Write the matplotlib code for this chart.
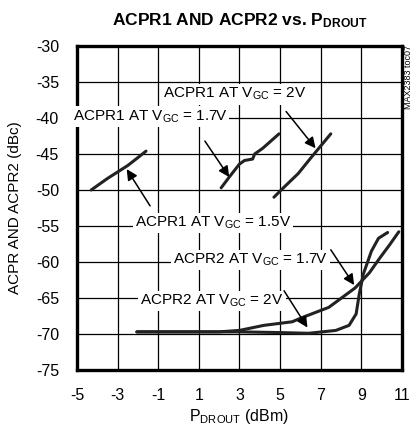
import matplotlib
matplotlib.use('Agg')
import matplotlib.pyplot as plt

# curve data (PDROUT in dBm, ACPR in dBc)
acpr1_15v_x = [-4.3, -3.5, -3.0, -2.5, -2.0, -1.6]
acpr1_15v_y = [-50.0, -48.4, -47.5, -46.6, -45.5, -44.6]

acpr1_17v_x = [2.1, 2.5, 3.0, 3.25, 3.65, 3.75, 4.15, 4.55, 4.95]
acpr1_17v_y = [-49.7, -48.2, -46.4, -45.9, -45.7, -45.0, -44.2, -43.2, -42.2]

acpr1_2v_x = [4.7, 5.2, 5.9, 6.5, 7.0, 7.5]
acpr1_2v_y = [-51.0, -49.6, -47.7, -45.6, -43.9, -42.2]

acpr2_17v_x = [-2.05, 0.0, 2.0, 3.0, 4.2, 5.6, 6.1, 7.4, 8.7, 9.4, 9.9, 10.4, 10.85]
acpr2_17v_y = [-69.7, -69.7, -69.7, -69.5, -68.8, -68.3, -67.7, -66.3, -63.6, -61.5, -59.5, -57.6, -55.8]

acpr2_2v_x = [-2.05, 0.0, 3.0, 5.0, 6.4, 7.75, 8.4, 8.75, 8.9, 9.1, 9.5, 9.85, 10.3]
acpr2_2v_y = [-69.7, -69.7, -69.7, -69.8, -69.9, -69.5, -68.8, -67.2, -64.5, -61.7, -58.5, -56.7, -55.9]

xticks = [-5, -3, -1, 1, 3, 5, 7, 9, 11]
yticks = [-75, -70, -65, -60, -55, -50, -45, -40, -35, -30]

plt.rcParams['font.family'] = ['Liberation Sans', 'DejaVu Sans']
plt.rcParams['mathtext.fontset'] = 'custom'
plt.rcParams['mathtext.rm'] = 'Liberation Sans'
plt.rcParams['mathtext.it'] = 'Liberation Sans'
plt.rcParams['mathtext.bf'] = 'Liberation Sans:bold'

fig = plt.figure(figsize=(4.16, 4.30), dpi=100)
ax = fig.add_axes([0.185, 0.1395, 0.781, 0.7535])

for xs, ys in [(acpr1_15v_x, acpr1_15v_y), (acpr1_17v_x, acpr1_17v_y),
               (acpr1_2v_x, acpr1_2v_y), (acpr2_17v_x, acpr2_17v_y),
               (acpr2_2v_x, acpr2_2v_y)]:
    ax.plot(xs, ys, color='#222222', lw=2.2, solid_capstyle='round', zorder=3)

ax.set_xlim(-5, 11)
ax.set_ylim(-75, -30)
ax.set_xticks(xticks)
ax.set_yticks(yticks)
ax.set_xticklabels([str(t) for t in xticks])
ax.set_yticklabels([str(t) for t in yticks])
ax.tick_params(length=0, labelsize=11.5, pad=13)
ax.grid(True, color='black', lw=0.9)
ax.set_axisbelow(True)
for s in ax.spines.values():
    s.set_linewidth(2.4)

ax.set_xlabel(r'P$_{\mathrm{DROUT}}$ (dBm)', fontsize=11.5, labelpad=3)
ax.set_ylabel('ACPR AND ACPR2 (dBc)', fontsize=11, labelpad=10)
fig.text(0.577, 0.953, r'ACPR1 AND ACPR2 vs. P$_{\mathbf{DROUT}}$',
         ha='center', va='center', fontsize=12.5, fontweight='bold')
fig.text(0.981, 0.895, 'MAX2383 toc07', rotation=90, ha='center', va='top',
         fontsize=6.5)

box = dict(facecolor='white', edgecolor='none', pad=1.5)
labels = [
    (r'ACPR1 AT V$_{GC}$ = 2V', (2.75, -36.7), (5.3, -39.1), (6.75, -44.2)),
    (r'ACPR1 AT V$_{GC}$ = 1.7V', (-1.4, -39.8), (1.3, -43.2), (2.5, -48.2)),
    (r'ACPR1 AT V$_{GC}$ = 1.5V', (1.7, -54.6), (-1.4, -52.2), (-2.55, -47.1)),
    (r'ACPR2 AT V$_{GC}$ = 1.7V', (3.55, -59.7), (7.5, -58.3), (8.65, -63.2)),
    (r'ACPR2 AT V$_{GC}$ = 2V', (1.65, -65.4), (5.2, -64.0), (6.35, -69.1)),
]
for txt, pos, tail, head in labels:
    ax.text(pos[0], pos[1], txt, ha='center', va='center', fontsize=11,
            bbox=box, zorder=4)
    ax.annotate('', xy=head, xytext=tail,
                arrowprops=dict(arrowstyle='-|>', color='black', lw=1.1,
                                mutation_scale=16, shrinkA=0, shrinkB=0),
                zorder=5)

fig.savefig('out.png', dpi=100)
